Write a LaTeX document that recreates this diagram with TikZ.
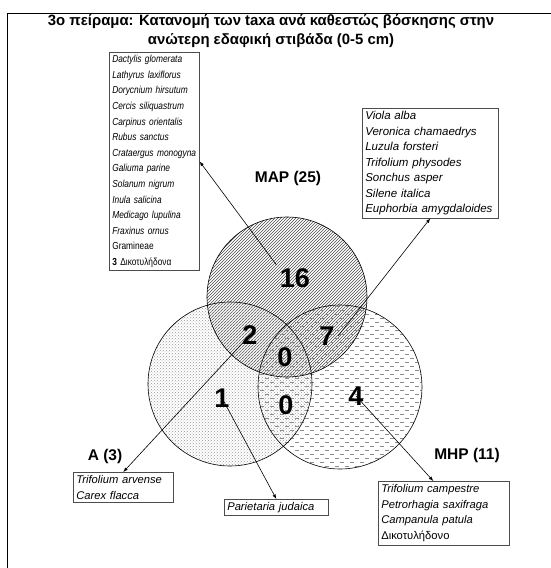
\documentclass[tikz,border=0pt]{standalone}
\usepackage{fontspec}
\setmainfont{Liberation Sans}
\newfontfamily\narrowfont[FakeStretch=0.82]{Liberation Sans}
\usetikzlibrary{arrows,calc,patterns}
\usetikzlibrary{positioning}

% rows of short horizontal dashes
\pgfdeclarepatternformonly{hdashes}{\pgfpoint{-1pt}{-1pt}}{\pgfpoint{11pt}{9pt}}{\pgfpoint{10pt}{8pt}}{
  \pgfsetlinewidth{0.8pt}
  \pgfpathmoveto{\pgfpoint{0pt}{2pt}}\pgfpathlineto{\pgfpoint{4pt}{2pt}}
  \pgfpathmoveto{\pgfpoint{5pt}{6pt}}\pgfpathlineto{\pgfpoint{9pt}{6pt}}
  \pgfusepath{stroke}}

\tikzset{
  taxabox/.style = {draw=black!70, fill=white, line width=0.6pt, anchor=north west,
                    inner sep=3pt, align=left, font=\itshape\fontsize{11.2}{15.7}\selectfont},
  count/.style = {font=\bfseries\fontsize{27}{27}\selectfont},
  setlabel/.style = {font=\bfseries\fontsize{15.5}{16}\selectfont},
  link/.style = {-latex, line width=0.6pt}
}

\begin{document}
\begin{tikzpicture}[x=1pt, y=-1pt]
        \useasboundingbox (0,0) rectangle (551,568);
        \draw[line width=1pt] (7,568) -- (7,13) -- (551,13);

        \node [font=\bfseries\fontsize{14.9}{19.5}\selectfont, align=center] (title) at (271,31)
              {3ο πείραμα: Κατανομή των taxa ανά καθεστώς βόσκησης στην\\ανώτερη εδαφική στιβάδα (0-5 cm)};

        % the three sets
        \fill[pattern=north east lines, pattern color=black!70] (287,297) circle [radius=80pt];
        \fill[pattern=crosshatch dots, pattern color=black!40] (230,384) circle [radius=82pt];
        \fill[pattern=hdashes, pattern color=black!45] (340,387) circle [radius=82pt];
        \draw[line width=0.6pt] (287,297) circle [radius=80pt];
        \draw[line width=0.6pt] (230,384) circle [radius=82pt];
        \draw[line width=0.6pt] (340,387) circle [radius=82pt];

        \node [setlabel] (map) at (288,178) {MAP (25)};
        \node [setlabel] (a) at (105,456) {A (3)};
        \node [setlabel] (mhp) at (467,455) {MHP (11)};

        \node [count] (n16) at (295,278) {16};
        \node [count] (n2) at (250,335) {2};
        \node [count] (n7) at (327,336) {7};
        \node [count] (n0a) at (285,357) {0};
        \node [count] (n0b) at (286,405) {0};
        \node [count] (n1) at (222,398) {1};
        \node [count] (n4) at (356,396) {4};

        % species lists
        \node [taxabox, text width=84pt, font=\narrowfont\itshape\fontsize{10.2}{15.6}\selectfont] (maplist) at (109,52)
              {Dactylis glomerata\\Lathyrus laxiflorus\\Dorycnium hirsutum\\Cercis siliquastrum\\
               Carpinus orientalis\\Rubus sanctus\\Crataergus monogyna\\Galiuma parine\\
               Solanum nigrum\\Inula salicina\\Medicago lupulina\\Fraxinus ornus\\
               \upshape Gramineae\\\upshape\textbf{3} Δικοτυλήδονα};
        \node [taxabox, text width=130pt, font=\itshape\fontsize{11.5}{15.5}\selectfont] (mapmhp) at (362,108)
              {Viola alba\\Veronica chamaedrys\\Luzula forsteri\\Trifolium physodes\\
               Sonchus asper\\Silene italica\\Euphorbia amygdaloides};
        \node [taxabox, text width=94pt] (alist) at (73,472)
              {Trifolium arvense\\Carex flacca};
        \node [taxabox, text width=98pt] (amhp) at (224,499)
              {Parietaria judaica};
        \node [taxabox, text width=125pt] (mhplist) at (378,481)
              {Trifolium campestre\\Petrorhagia saxifraga\\Campanula patula\\\upshape Δικοτυλήδονο};

        \draw[link] (n16.north west) -- (maplist.east);
        \draw[link] (n7.east) -- (mapmhp.south);
        \draw[link] (n2.center) -- (alist.north);
        \draw[link] (n1.center) -- (amhp.north);
        \draw[link] (n4.center) -- ($(mhplist.north west)!0.42!(mhplist.north east)$);
\end{tikzpicture}
\end{document}
